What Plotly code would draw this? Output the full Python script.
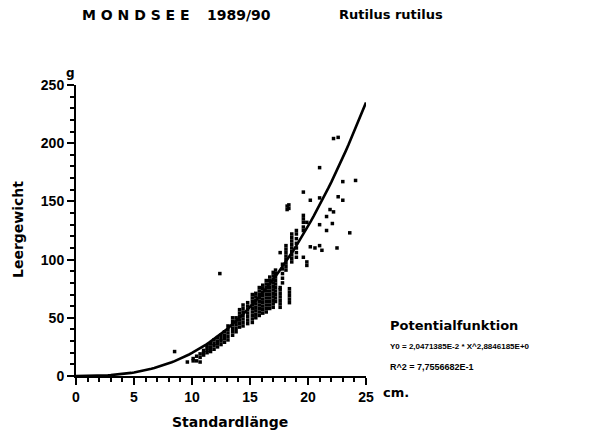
import plotly.graph_objects as go

# Scatter data: standard length (cm) and weight (g)
length_cm = [
    8.5, 9.6, 10.1, 10.1, 10.4, 10.4, 10.7, 10.7, 10.7,
    11.0, 11.0, 11.0, 11.3, 11.3, 11.3, 11.3, 11.6, 11.6, 11.6, 11.6,
    11.9, 11.9, 11.9, 11.9, 12.2, 12.2, 12.2, 12.2, 12.4,
    12.5, 12.5, 12.5, 12.5, 12.8, 12.8, 12.8, 12.8,
    13.1, 13.1, 13.1, 13.1, 13.1,
    13.5, 13.5, 13.5, 13.5, 13.5, 13.5,
    13.8, 13.8, 13.8, 13.8, 13.8,
    14.1, 14.1, 14.1, 14.1, 14.1, 14.1,
    14.4, 14.4, 14.4, 14.4, 14.4, 14.4, 14.4,
    14.8, 14.8, 14.8, 14.8, 14.8, 14.8, 14.8,
    15.2, 15.2, 15.2, 15.2, 15.2, 15.2, 15.2, 15.2, 15.2,
    15.5, 15.5, 15.5, 15.5, 15.5, 15.5, 15.5, 15.5,
    15.8, 15.8, 15.8, 15.8, 15.8, 15.8, 15.8, 15.8, 15.8,
    16.1, 16.1, 16.1, 16.1, 16.1, 16.1, 16.1, 16.1, 16.1,
    16.4, 16.4, 16.4, 16.4, 16.4, 16.4, 16.4, 16.4, 16.4, 16.4,
    16.7, 16.7, 16.7, 16.7, 16.7, 16.7, 16.7, 16.7, 16.7, 16.7,
    17.0, 17.0, 17.0, 17.0, 17.0, 17.0, 17.0, 17.0, 17.0, 17.0, 17.0,
    17.2, 17.2, 17.2, 17.2, 17.2, 17.2, 17.2, 17.2, 17.2, 17.2,
    17.6, 17.6, 17.6, 17.6, 17.6, 17.6, 17.6, 17.6,
    17.8, 17.8, 17.8, 17.8, 17.8,
    18.1, 18.1, 18.1, 18.1, 18.1, 18.1, 18.1, 18.1,
    18.2, 18.2, 18.35, 18.35,
    18.4, 18.4, 18.4, 18.4, 18.4,
    18.6, 18.6, 18.6, 18.6, 18.6, 18.6, 18.6, 18.6, 18.6,
    19.0, 19.0, 19.0, 19.0, 19.0, 19.0, 19.0,
    19.6, 19.6, 19.6, 19.6, 19.6, 19.6, 19.6,
    19.9, 19.9, 19.9,
    20.2, 20.2, 20.6,
    21.0, 21.0, 21.0, 21.0, 21.2,
    21.6, 21.6, 21.9, 22.1, 22.2, 22.2, 22.5,
    22.6, 22.6, 23.0, 23.0, 23.6, 24.1,
]
weight_g = [
    21, 12, 13, 15, 13, 17, 12, 16, 19,
    18, 20, 22, 20, 22, 24, 26, 21, 23, 25, 28,
    23, 26, 28, 31, 25, 28, 30, 33, 88,
    27, 30, 32, 35, 29, 32, 35, 38,
    31, 34, 37, 40, 43,
    35, 38, 41, 44, 47, 50,
    38, 41, 44, 47, 50,
    42, 45, 48, 51, 54, 57,
    43, 46, 49, 52, 55, 58, 61,
    45, 48, 51, 54, 57, 60, 63,
    46, 49, 52, 55, 58, 61, 64, 67, 70,
    50, 53, 56, 59, 62, 65, 68, 71,
    52, 55, 58, 61, 64, 67, 70, 73, 76,
    54, 57, 60, 63, 66, 69, 72, 75, 78,
    55, 58, 61, 64, 67, 70, 73, 76, 79, 82,
    58, 61, 64, 67, 70, 73, 76, 79, 82, 85,
    59, 62, 65, 68, 71, 74, 77, 80, 83, 86, 89,
    64, 67, 70, 73, 76, 79, 82, 85, 88, 91,
    59, 62, 65, 68, 71, 74, 76, 106,
    80, 84, 88, 92, 96,
    91, 94, 97, 100, 103, 106, 109, 112,
    143, 146, 144, 147,
    63, 66, 69, 72, 75,
    98, 101, 104, 107, 110, 113, 116, 119, 122,
    102, 106, 110, 114, 118, 122, 125,
    102, 125, 128, 132, 135, 138, 158,
    95, 98, 132,
    111, 151, 110,
    112, 130, 153, 179, 108,
    125, 137, 143, 131, 141, 204, 110,
    154, 205, 151, 167, 123, 168,
]

# Power-function fit drawn as the curve (coefficients estimated from the drawn line)
fit_a = 0.0395
fit_b = 2.7
curve_x = [i * 0.25 for i in range(0, 101)]
curve_y = [fit_a * x ** fit_b for x in curve_x]

x_ticks = [0, 5, 10, 15, 20, 25]
y_ticks = [0, 50, 100, 150, 200, 250]

title_left = "M O N D S E E"
title_year = "1989/90"
title_right = "Rutilus rutilus"
y_title = "Leergewicht"
x_title = "Standardlänge"
legend_lines = ["Potentialfunktion",
                "Y0 = 2,0471385E-2 * X^2,8846185E+0",
                "R^2 = 7,7556682E-1"]

FONT = "Liberation Sans"
HEAVY = "DejaVu Sans"

fig = go.Figure()
fig.add_trace(go.Scatter(
    x=length_cm, y=weight_g, mode="markers",
    marker=dict(symbol="square", size=3.5, color="black", line=dict(width=0)),
    showlegend=False, cliponaxis=False,
))
fig.add_trace(go.Scatter(
    x=curve_x, y=curve_y, mode="lines",
    line=dict(color="black", width=2.6),
    showlegend=False,
))

axis_common = dict(
    showgrid=False, zeroline=False, showline=True, linecolor="black", linewidth=2,
    ticks="outside", tickcolor="black", tickwidth=2, ticklen=7,
    tickfont=dict(family=FONT, size=14, color="black", weight="bold"),
)
fig.update_xaxes(range=[0, 25], tickvals=x_ticks, ticktext=[str(v) for v in x_ticks],
                 minor=dict(dtick=1, ticks="outside", ticklen=4, tickwidth=2, tickcolor="black"),
                 **axis_common)
fig.update_yaxes(range=[0, 250], tickvals=y_ticks, ticktext=[str(v) for v in y_ticks],
                 minor=dict(dtick=10, ticks="outside", ticklen=4, tickwidth=2, tickcolor="black"),
                 **axis_common)

ann_font = dict(family=HEAVY, color="black", weight="bold")
anns = [
    dict(x=80, y=15, text=title_left, xanchor="left", font=dict(size=14, **ann_font)),
    dict(x=205, y=15, text=title_year, xanchor="left", font=dict(size=14, **ann_font)),
    dict(x=337, y=15, text=title_right, xanchor="left", font=dict(size=13, **ann_font)),
    dict(x=18, y=230, text=y_title, textangle=-90, font=dict(size=14, **ann_font)),
    dict(x=230, y=422, text=x_title, font=dict(size=14, **ann_font)),
    dict(x=70, y=73, text="g", font=dict(size=12, **ann_font)),
    dict(x=381, y=392, text="cm.", xanchor="left", font=dict(size=13, **ann_font)),
    dict(x=388, y=325, text=legend_lines[0], xanchor="left", font=dict(size=13, **ann_font)),
    dict(x=388, y=346, text=legend_lines[1], xanchor="left",
         font=dict(size=8, family="Liberation Sans Narrow, Liberation Sans", color="black", weight="bold")),
    dict(x=388, y=367, text=legend_lines[2], xanchor="left",
         font=dict(size=9, family="Liberation Sans Narrow, Liberation Sans", color="black", weight="bold")),
]
for a in anns:
    a.update(xref="paper", yref="paper", showarrow=False, yanchor="middle")
    a.setdefault("xanchor", "center")
    # convert pixel positions to paper coordinates
    a["x"] = (a["x"] - 76) / 290
    a["y"] = (376 - a["y"]) / 291
fig.update_layout(
    width=595, height=433,
    margin=dict(l=76, r=229, t=85, b=57),
    plot_bgcolor="white", paper_bgcolor="white",
    annotations=anns,
)
fig.write_html("out.html")
